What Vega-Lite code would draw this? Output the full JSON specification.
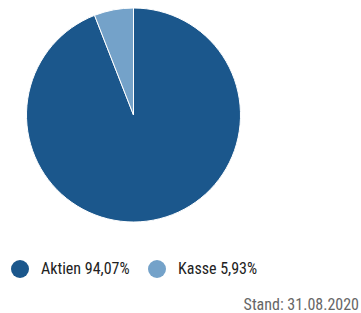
{
  "$schema": "https://vega.github.io/schema/vega-lite/v6.json",
  "width": 267,
  "height": 230,
  "autosize": {"type": "none"},
  "padding": {"left": 0, "top": 0, "right": 94, "bottom": 83},
  "background": "white",
  "config": {"view": {"stroke": null}, "font": "Roboto Condensed, DejaVu Sans Condensed, sans-serif"},
  "data": {"values": [
    {"label": "Aktien 94,07%", "value": 94.07, "ord": 1},
    {"label": "Kasse 5,93%", "value": 5.93, "ord": 2}
  ]},
  "title": {
    "text": "Stand: 31.08.2020",
    "orient": "bottom",
    "anchor": "end",
    "frame": "group",
    "baseline": "alphabetic",
    "dx": 92,
    "offset": 32,
    "fontSize": 16,
    "fontWeight": "normal",
    "color": "#666666",
    "font": "Roboto Condensed, DejaVu Sans Condensed, sans-serif"
  },
  "mark": {"type": "arc", "outerRadius": 107, "stroke": "white", "strokeWidth": 1},
  "encoding": {
    "theta": {"field": "value", "type": "quantitative", "stack": true},
    "order": {"field": "ord", "type": "quantitative"},
    "color": {
      "field": "label",
      "type": "nominal",
      "sort": ["Aktien 94,07%", "Kasse 5,93%"],
      "scale": {"domain": ["Aktien 94,07%", "Kasse 5,93%"], "range": ["#1b578c", "#74a2c9"]},
      "legend": {
        "title": null,
        "orient": "none",
        "direction": "horizontal",
        "legendX": 11,
        "legendY": 260,
        "symbolType": "circle",
        "symbolSize": 324,
        "symbolStrokeWidth": 0,
        "symbolOpacity": 1,
        "labelFontSize": 16,
        "labelColor": "#222222",
        "labelOffset": 12,
        "columnPadding": 18,
        "labelFont": "Roboto Condensed, DejaVu Sans Condensed, sans-serif"
      }
    }
  }
}
